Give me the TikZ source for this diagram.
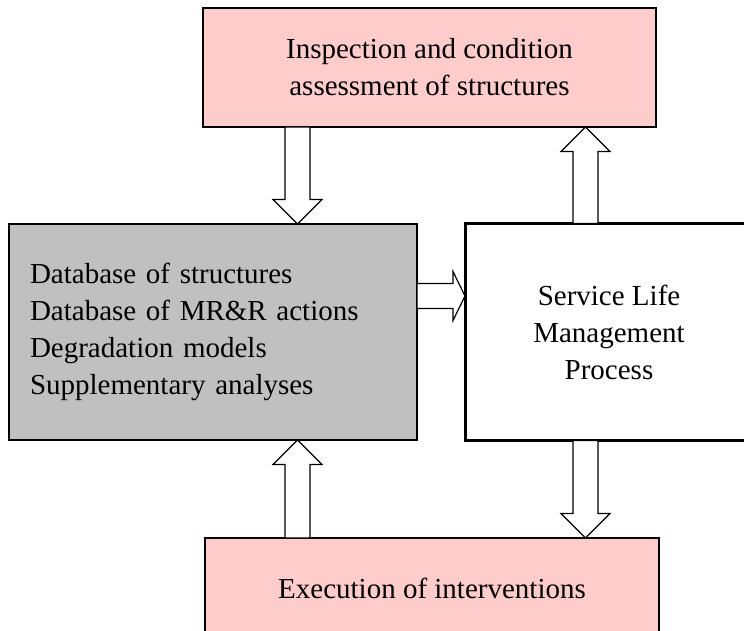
\documentclass[tikz,border=0pt]{standalone}
\usepackage{fontspec}
\setmainfont{Liberation Serif}
\usetikzlibrary{positioning,calc}

\definecolor{pinkbox}{HTML}{FFCCCC}
\definecolor{graybox}{HTML}{C0C0C0}

\tikzset{
  box/.style={draw, rectangle, line width=0.6pt, outer sep=0pt, inner sep=0pt,
    align=center, font=\fontsize{14.5}{18.5}\selectfont},
  % hollow block arrow from start to target, #1 = head length
  fat arrow/.style={draw, fill=white, line width=0.6pt, line join=miter,
    to path={let \p1=(\tikztostart), \p2=(\tikztotarget),
      \p3=($(\p2)!#1!(\p1)$) in
      ($(\p1)!6.25pt!90:(\p2)$) -- ($(\p3)!6.25pt!90:(\p2)$)
      -- ($(\p3)!12.25pt!90:(\p2)$) -- (\p2)
      -- ($(\p3)!12.25pt!-90:(\p2)$) -- ($(\p3)!6.25pt!-90:(\p2)$)
      -- ($(\p1)!6.25pt!-90:(\p2)$) -- cycle}},
  fat arrow/.default=12.25pt
}

\begin{document}
\begin{tikzpicture} [x=0.5pt, y=-0.5pt]
    \useasboundingbox (0,0) rectangle (744,631);
    % place nodes
    \node [box, fill=pinkbox, minimum width=226.5pt, minimum height=59.5pt] (insp) at (429.5,67.5)
      {Inspection and condition\\assessment of structures};
    \node [box, fill=graybox, align=left, text width=183pt, inner xsep=10.5pt, minimum height=108pt] (data) at (213,332)
      {Database of structures\\Database of MR\&R actions\\Degradation models\\Supplementary analyses};
    \node [box, line width=1.5pt, minimum width=144pt, minimum height=108.5pt, right=24pt of data] (slm)
      {Service Life\\Management\\Process};
    \node [box, fill=pinkbox, minimum width=227pt, minimum height=50pt] (exec) at (432,588)
      {Execution of interventions};
    % draw arrows
    \draw [fat arrow] (insp.south -| 297.5,0) to (data.north -| 297.5,0);
    \draw [fat arrow] (slm.north -| 585.5,0) to (insp.south -| 585.5,0);
    \draw [fat arrow=6pt] (data.east |- 0,296) to (slm.west |- 0,296);
    \draw [fat arrow] (exec.north -| 297.5,0) to (data.south -| 297.5,0);
    \draw [fat arrow] (slm.south -| 585.5,0) to (exec.north -| 585.5,0);
  \end{tikzpicture}
\end{document}
